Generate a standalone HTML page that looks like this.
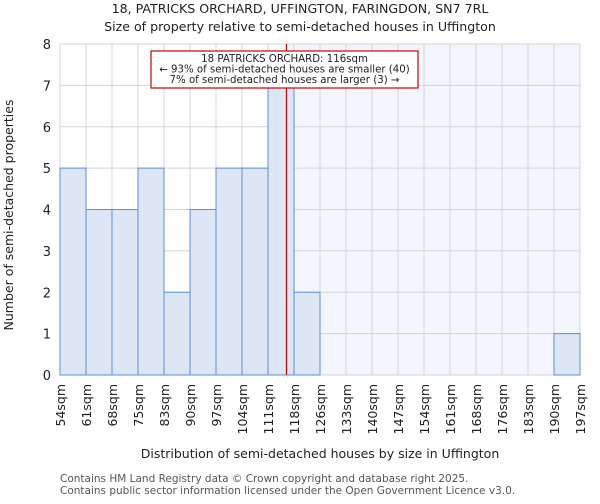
<!DOCTYPE html>
<html><head><meta charset="utf-8"><style>
body{margin:0;background:#fff;font-family:"DejaVu Sans","Liberation Sans",sans-serif}
svg text{font-family:"DejaVu Sans","Liberation Sans",sans-serif;fill:#222}
</style></head><body>
<svg id="chart" width="600" height="500" xmlns="http://www.w3.org/2000/svg">
<text x="300" y="13" font-size="12.6" text-anchor="middle">18, PATRICKS ORCHARD, UFFINGTON, FARINGDON, SN7 7RL</text>
<text x="300" y="31" font-size="12.6" text-anchor="middle">Size of property relative to semi-detached houses in Uffington</text>
<g id="plot"></g>
<text x="320" y="458" font-size="12.5" text-anchor="middle">Distribution of semi-detached houses by size in Uffington</text>
<text transform="translate(13,215) rotate(-90)" font-size="12.5" text-anchor="middle">Number of semi-detached properties</text>
<text x="60" y="482" font-size="10.5" style="fill:#555">Contains HM Land Registry data © Crown copyright and database right 2025.</text>
<text x="60" y="494" font-size="10.5" style="fill:#555">Contains public sector information licensed under the Open Government Licence v3.0.</text>
</svg>
<script>
const edges=["54sqm","61sqm","68sqm","75sqm","83sqm","90sqm","97sqm","104sqm","111sqm","118sqm","126sqm","133sqm","140sqm","147sqm","154sqm","161sqm","168sqm","176sqm","183sqm","190sqm","197sqm"];
const counts=[5,4,4,5,2,4,5,5,7,2,0,0,0,0,0,0,0,0,0,1];
const yTicks=[0,1,2,3,4,5,6,7,8];
const markerIndex=8.71;
const L=60,R=580,T=44,B=375,ymax=8;
const bw=(R-L)/counts.length;
const xs=i=>L+i*bw, ys=v=>B-(v/ymax)*(B-T);
const NS="http://www.w3.org/2000/svg";
const g=document.getElementById('plot');
function mk(t,a){const e=document.createElementNS(NS,t);for(const k in a)e.setAttribute(k,a[k]);g.appendChild(e);return e;}
const mx=xs(markerIndex);
let e=mk('rect',{x:mx,y:T,width:R-mx,height:B-T,fill:'#f3f6fd'});


for(let i=0;i<edges.length;i++){e=mk('line',{x1:xs(i),x2:xs(i),y1:T,y2:B,stroke:'#d4d4d4','stroke-width':1});

}
yTicks.forEach(v=>{e=mk('line',{x1:L,x2:R,y1:ys(v),y2:ys(v),stroke:'#d4d4d4','stroke-width':1});


const t=mk('text',{x:L-9,y:ys(v)+5,'font-size':13,'text-anchor':'end'});t.textContent=v;

});
counts.forEach((c,i)=>{if(c<=0)return;e=mk('rect',{x:xs(i),y:ys(c),width:bw,height:B-ys(c),fill:'#dce6f4',stroke:'#5b8fd6','stroke-width':1});

});
edges.forEach((s,i)=>{const t=mk('text',{transform:`translate(${xs(i)+5},384) rotate(-90)`,'font-size':12.5,'text-anchor':'end'});t.textContent=s;

});
e=mk('line',{x1:mx,x2:mx,y1:T,y2:B,stroke:'#cc0000','stroke-width':1.2});


e=mk('rect',{x:151,y:51,width:267,height:37,fill:'#fff',stroke:'#cc0000','stroke-width':1.2});


["18 PATRICKS ORCHARD: 116sqm","← 93% of semi-detached houses are smaller (40)","7% of semi-detached houses are larger (3) →"].forEach((s,k)=>{const t=mk('text',{x:284.5,y:62+k*10.5,'font-size':10.2,'text-anchor':'middle'});t.textContent=s;

});
</script>
</body></html>
